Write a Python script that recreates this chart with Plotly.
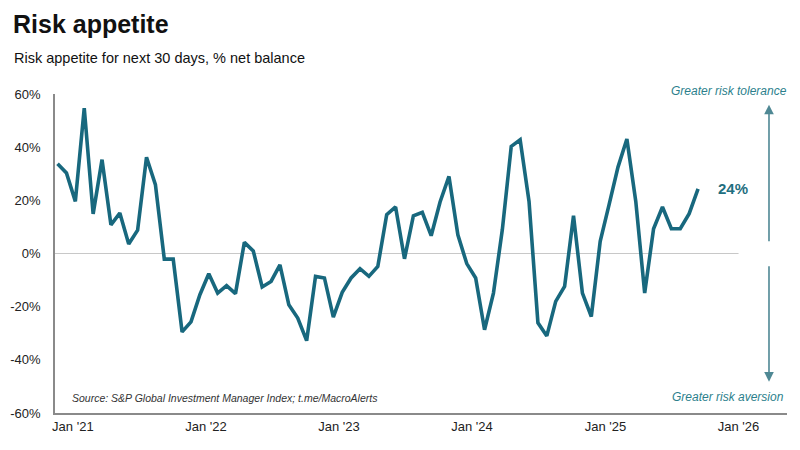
import pandas as pd
import plotly.graph_objects as go

# risk appetite, % net balance left to right
risk_appetite = [
    33.8, 30.3, 19.6, 54.7, 14.9, 35.3, 10.8, 15.2, 3.6, 8.8,
    36.2, 25.9, -2.1, -2.1, -29.5, -25.7, -15.5, -7.6, -14.9, -12.1,
    -15.1, 4.2, 1.0, -12.6, -10.5, -4.3, -19.3, -24.3, -32.8, -8.6,
    -9.2, -23.9, -14.6, -9.2, -5.7, -8.6, -4.9, 14.6, 17.5, -2.0,
    14.2, 15.5, 6.7, 19.4, 29.0, 7.0, -3.8, -9.2, -28.7, -14.9,
    9.0, 40.3, 42.8, 19.6, -26.1, -31.0, -18.0, -12.4, 14.2, -14.9,
    -23.7, 4.6, 18.4, 32.5, 43.1, 19.6, -14.9, 9.3, 17.5, 9.3,
    9.3, 15.0, 24.3,
]
first_date = "2020-11-20"
last_date = "2025-09-12"
x_range = ["2020-11-13", "2026-05-14"]
y_ticks = [-60, -40, -20, 0, 20, 40, 60]
y_labels = [f"{v}%" for v in y_ticks]

dates = pd.date_range(first_date, last_date, periods=len(risk_appetite))

LINE = "#18687e"
TEAL = "#2c7f8c"
FONT = "Liberation Sans, Arial, sans-serif"

# page body adds an 8px margin, so the figure is a bit smaller than the window
W, H = 792, 442
ML, MR, MT, MB = 46.7, 13, 86.3, 36.7


def px_x(px):
    return (px - ML) / (W - ML - MR)


def px_y(py):
    return (H - MB - py) / (H - MT - MB)


fig = go.Figure()
fig.add_trace(go.Scatter(x=dates, y=risk_appetite, mode="lines",
                         line=dict(color=LINE, width=3.6), hoverinfo="skip"))

# zero line stops at Jan '26
fig.add_shape(type="line", xref="x", yref="y", x0=x_range[0], x1="2026-01-01", y0=0, y1=0,
              line=dict(color="#c8c8c8", width=1.2), layer="below")

fig.add_annotation(x=dates[-1], y=risk_appetite[-1], xref="x", yref="y",
                   text=f"<b>{round(risk_appetite[-1])}%</b>", showarrow=False,
                   xanchor="left", xshift=18, font=dict(family=FONT, size=15, color="#1f6f80"))

# direction arrows on the right
fig.add_annotation(x=0.9754, y=0.9664, xref="paper", yref="paper", text="", showarrow=True,
                   ax=0, ay=138, arrowhead=2, arrowsize=1.2, arrowwidth=1.6, arrowcolor="#4f8894")
fig.add_annotation(x=0.9754, y=0.0981, xref="paper", yref="paper", text="", showarrow=True,
                   ax=0, ay=-117, arrowhead=2, arrowsize=1.2, arrowwidth=1.6, arrowcolor="#4f8894")
fig.add_annotation(x=1.003, y=1.0104, xref="paper", yref="paper", text="<i>Greater risk tolerance</i>",
                   showarrow=False, xanchor="right", yanchor="middle",
                   font=dict(family=FONT, size=12, color=TEAL))
fig.add_annotation(x=0.998, y=0.0489, xref="paper", yref="paper", text="<i>Greater risk aversion</i>",
                   showarrow=False, xanchor="right", yanchor="middle",
                   font=dict(family=FONT, size=12, color=TEAL))
fig.add_annotation(x=0.0209, y=0.0484, xref="paper", yref="paper",
                   text="<i>Source: S&P Global Investment Manager Index; t.me/MacroAlerts</i>",
                   showarrow=False, xanchor="left", yanchor="middle",
                   font=dict(family=FONT, size=10.5, color="#333333"))

# title + subtitle
fig.add_annotation(x=px_x(3), y=px_y(32), xref="paper", yref="paper", text="<b>Risk appetite</b>",
                   showarrow=False, xanchor="left", yanchor="bottom",
                   font=dict(family=FONT, size=25, color="#111111"))
fig.add_annotation(x=px_x(4), y=px_y(60.5), xref="paper", yref="paper",
                   text="Risk appetite for next 30 days, % net balance",
                   showarrow=False, xanchor="left", yanchor="bottom",
                   font=dict(family=FONT, size=14.5, color="#111111"))

fig.update_layout(
    width=W, height=H, margin=dict(l=ML, r=MR, t=MT, b=MB),
    paper_bgcolor="white", plot_bgcolor="white", showlegend=False,
    font=dict(family=FONT, size=13, color="#222222"),
    xaxis=dict(type="date", range=x_range, tick0="2021-01-01", dtick="M12", tickformat="%b '%y",
               showgrid=False, zeroline=False, showline=True, linecolor="#8a8a8a", linewidth=1.5,
               ticks="", ticklabelstandoff=1, automargin=False, tickfont=dict(size=13, color="#222222")),
    yaxis=dict(range=[-60, 60], tickvals=y_ticks, ticktext=y_labels, showgrid=False, zeroline=False,
               showline=True, linecolor="#8a8a8a", linewidth=1.5, ticks="", ticklabelstandoff=10,
               automargin=False, tickfont=dict(size=13, color="#222222")),
)

fig.write_html("out.html")
